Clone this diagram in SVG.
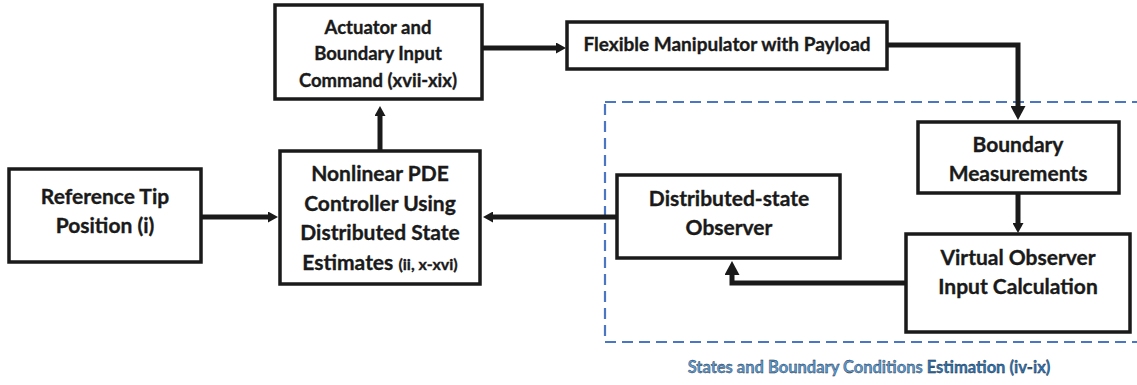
<svg xmlns="http://www.w3.org/2000/svg" width="1137" height="385" viewBox="0 0 1137 385">
<defs>
<style>
.box{fill:#fff;stroke:#1a1a1a;stroke-width:3.5}
.t{font-family:Lato,"Liberation Sans",sans-serif;font-weight:700;fill:#1a1a1a;stroke:#1a1a1a;stroke-width:0.35;text-anchor:middle}
.c{fill:none;stroke:#1a1a1a;stroke-width:5}
.dash{fill:none;stroke:#4a76c2;stroke-width:2.2;stroke-dasharray:11 6}
</style>
<marker id="ah" markerUnits="userSpaceOnUse" markerWidth="14" markerHeight="15" refX="0" refY="7.5" orient="auto" viewBox="0 0 14 15">
<path d="M0,0 L14,7.5 L0,15 z" fill="#1a1a1a"/>
</marker>
<marker id="as" markerUnits="userSpaceOnUse" markerWidth="10" markerHeight="11" refX="0" refY="5.5" orient="auto" viewBox="0 0 10 11">
<path d="M0,0 L10,5.5 L0,11 z" fill="#1a1a1a"/>
</marker>
</defs>
<rect class="dash" x="605" y="102" width="540" height="240"/>
<g id="connectors">
<path class="c" d="M201 217 H268" marker-end="url(#as)"/>
<path class="c" d="M380 151 V116" marker-end="url(#as)"/>
<path class="c" d="M482 48 H556" marker-end="url(#as)"/>
<path class="c" d="M887 45 H1018 V106" marker-end="url(#ah)"/>
<path class="c" d="M1018 193 V223" stroke-width="4" marker-end="url(#as)"/>
<path class="c" d="M906 283 H732 V275" marker-end="url(#ah)"/>
<path class="c" d="M617 217 H493" marker-end="url(#as)"/>
</g>
<g id="reference">
<rect class="box" x="9" y="169" width="192" height="93"/>
<text class="t" x="105" y="204" font-size="21">Reference Tip</text>
<text class="t" x="105" y="233" font-size="21">Position (i)</text>
</g>
<g id="controller">
<rect class="box" x="280" y="151" width="200" height="133"/>
<text class="t" x="380" y="181" font-size="21">Nonlinear PDE</text>
<text class="t" x="380" y="211" font-size="21">Controller Using</text>
<text class="t" x="380" y="240" font-size="21">Distributed State</text>
<text class="t" x="380" y="270" font-size="21">Estimates <tspan font-size="16">(ii, x-xvi)</tspan></text>
</g>
<g id="actuator">
<rect class="box" x="275" y="5" width="207" height="94"/>
<text class="t" x="378" y="34" font-size="18.5">Actuator and</text>
<text class="t" x="378" y="60" font-size="18.5">Boundary Input</text>
<text class="t" x="378" y="87" font-size="18.5">Command (xvii-xix)</text>
</g>
<g id="manipulator">
<rect class="box" x="567" y="22" width="320" height="47"/>
<text class="t" x="727" y="51" font-size="19">Flexible Manipulator with Payload</text>
</g>
<g id="measurements">
<rect class="box" x="918" y="122" width="201" height="71"/>
<text class="t" x="1018" y="152" font-size="21">Boundary</text>
<text class="t" x="1018" y="181" font-size="21">Measurements</text>
</g>
<g id="virtual">
<rect class="box" x="906" y="234" width="224" height="98"/>
<text class="t" x="1018" y="265" font-size="21">Virtual Observer</text>
<text class="t" x="1018" y="294" font-size="21">Input Calculation</text>
</g>
<g id="observer">
<rect class="box" x="617" y="175" width="223" height="83"/>
<text class="t" x="729" y="206" font-size="21">Distributed-state</text>
<text class="t" x="729" y="235" font-size="21">Observer</text>
</g>
<g id="region-label">
<text class="t" x="869" y="373" font-size="16.5" stroke="none"><tspan fill="#5b9bd5">States and Boundary Conditions </tspan><tspan fill="#2e75b6">Estimation (iv-ix)</tspan></text>
</g>
</svg>
